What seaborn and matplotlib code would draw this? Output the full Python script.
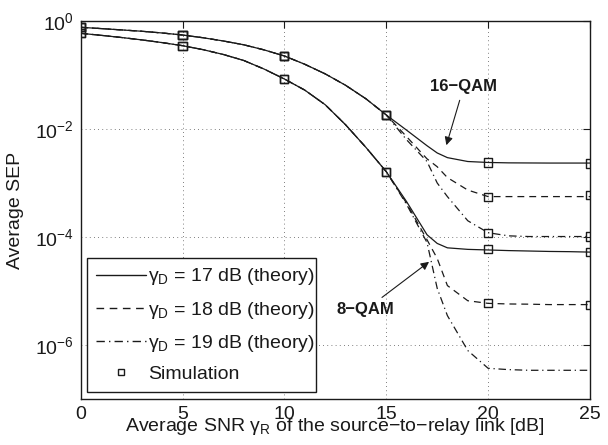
import matplotlib
matplotlib.use("Agg")
import matplotlib.pyplot as plt
from matplotlib.lines import Line2D
import seaborn as sns
import pandas as pd

# ---------------- data ----------------
snr_common = list(range(16))                       # 0 .. 15 dB
snr_tail = [16, 17, 17.5, 18, 19, 20, 21, 22, 23, 24, 25]
snr = snr_common + snr_tail

# 16-QAM (all gamma_D coincide up to 15 dB)
qam16_common = [0.764, 0.724, 0.684, 0.646, 0.600, 0.550, 0.490, 0.427,
                0.363, 0.292, 0.225, 0.158, 0.105, 0.0646, 0.0363, 0.0182]
qam16_17_tail = [9.5e-3, 4.9e-3, 3.6e-3, 2.95e-3, 2.5e-3, 2.4e-3,
                 2.36e-3, 2.35e-3, 2.34e-3, 2.34e-3, 2.34e-3]
qam16_18_tail = [7.2e-3, 2.8e-3, 2.0e-3, 1.26e-3, 7.4e-4, 5.6e-4,
                 5.6e-4, 5.6e-4, 5.6e-4, 5.6e-4, 5.6e-4]
qam16_19_tail = [6.3e-3, 2.5e-3, 1.0e-3, 5.6e-4, 2.0e-4, 1.2e-4,
                 1.05e-4, 1.02e-4, 1.02e-4, 1.02e-4, 1.02e-4]

# 8-QAM
qam8_common = [0.592, 0.543, 0.495, 0.447, 0.398, 0.349, 0.295, 0.240,
               0.186, 0.129, 0.0843, 0.0525, 0.0282, 0.0120, 4.57e-3, 1.62e-3]
qam8_17_tail = [4.5e-4, 1.1e-4, 7.6e-5, 6.3e-5, 5.9e-5, 5.75e-5,
                5.6e-5, 5.5e-5, 5.4e-5, 5.35e-5, 5.25e-5]
qam8_18_tail = [4.2e-4, 8.9e-5, 4.0e-5, 1.26e-5, 6.6e-6, 5.9e-6,
                5.75e-6, 5.7e-6, 5.6e-6, 5.6e-6, 5.6e-6]
qam8_19_tail = [4.0e-4, 7.9e-5, 1.12e-5, 3.5e-6, 7.9e-7, 3.7e-7,
                3.5e-7, 3.4e-7, 3.4e-7, 3.4e-7, 3.4e-7]

# Monte-Carlo simulation points
sim_snr = [0, 5, 10, 15, 20, 25]
sim16_17 = [0.764, 0.550, 0.225, 0.0182, 2.4e-3, 2.3e-3]
sim16_18 = [0.764, 0.550, 0.225, 0.0182, 5.6e-4, 6.0e-4]
sim16_19 = [0.764, 0.550, 0.225, 0.0182, 1.2e-4, 1.02e-4]
sim8_17 = [0.592, 0.349, 0.0843, 1.62e-3, 6.0e-5, 5.25e-5]
sim8_18 = [0.592, 0.349, 0.0843, 1.62e-3, 5.9e-6, 5.6e-6]

legend_labels = ["γ$_\\mathrm{D}$ = 17 dB (theory)",
                 "γ$_\\mathrm{D}$ = 18 dB (theory)",
                 "γ$_\\mathrm{D}$ = 19 dB (theory)",
                 "Simulation"]
xticks = [0, 5, 10, 15, 20, 25]
yticks = [1e-6, 1e-4, 1e-2, 1e0]

# ---------------- style ----------------
sns.set_theme(style="white")
plt.rcParams["font.family"] = ["Liberation Sans", "DejaVu Sans"]
plt.rcParams["mathtext.fontset"] = "custom"
plt.rcParams["mathtext.rm"] = "Liberation Sans"
plt.rcParams["mathtext.it"] = "Liberation Sans:italic"
plt.rcParams["mathtext.bf"] = "Liberation Sans:bold"
plt.rcParams["axes.unicode_minus"] = True
plt.rcParams["text.color"] = "black"
plt.rcParams["axes.labelcolor"] = "black"
plt.rcParams["xtick.color"] = "black"
plt.rcParams["ytick.color"] = "black"

fig = plt.figure(figsize=(6.08, 4.45), dpi=100)
ax = fig.add_axes([0.1327, 0.1034, 0.8377, 0.8494])

styles = {"17": "-", "18": (0, (5.5, 4)), "19": (0, (6, 3, 1, 3))}

series = [
    (qam16_common + qam16_17_tail, "17"),
    (qam16_common + qam16_18_tail, "18"),
    (qam16_common + qam16_19_tail, "19"),
    (qam8_common + qam8_17_tail, "17"),
    (qam8_common + qam8_18_tail, "18"),
    (qam8_common + qam8_19_tail, "19"),
]
for vals, key in series:
    df = pd.DataFrame({"snr": snr, "sep": vals})
    sns.lineplot(data=df, x="snr", y="sep", ax=ax, color="k",
                 linestyle=styles[key], linewidth=0.9, legend=False)

sim_df = pd.DataFrame({
    "snr": sim_snr * 5,
    "sep": sim16_17 + sim16_18 + sim16_19 + sim8_17 + sim8_18,
})
sns.scatterplot(data=sim_df, x="snr", y="sep", ax=ax, marker="s", s=34,
                legend=False, zorder=5)
coll = ax.collections[-1]
coll.set_facecolor("none")
coll.set_edgecolor("k")
coll.set_linewidth(1.0)

ax.set_yscale("log")
ax.set_xlim(0, 25)
ax.set_ylim(1e-7, 1e0)
ax.set_xticks(xticks)
ax.set_yticks(yticks)
ax.minorticks_off()
ax.grid(True, which="major", color="#555555", linestyle=(0, (1, 4)), linewidth=0.6)
ax.tick_params(direction="in", top=True, right=True, length=5, width=0.8,
               labelsize=14, colors="k", pad=5)
for sp in ax.spines.values():
    sp.set_color("k")
    sp.set_linewidth(1.0)

ax.set_xlabel("Average SNR γ$_\\mathrm{R}$ of the source−to−relay link [dB]",
              fontsize=14, labelpad=-5, color="k")
ax.set_ylabel("Average SEP", fontsize=14, labelpad=8, color="k")

# annotations
ax.annotate("16−QAM", xy=(17.95, 10 ** -2.30), xytext=(18.8, 10 ** -1.22),
            fontsize=12, fontweight="bold", ha="center", va="center", color="k",
            arrowprops=dict(arrowstyle="-|>", color="k", lw=0.8,
                            mutation_scale=12, shrinkA=2, shrinkB=0))
ax.annotate("8−QAM", xy=(17.1, 10 ** -4.46), xytext=(13.98, 10 ** -5.35),
            fontsize=12, fontweight="bold", ha="center", va="center", color="k",
            arrowprops=dict(arrowstyle="-|>", color="k", lw=0.8,
                            mutation_scale=12, shrinkA=2, shrinkB=0))

handles = [
    Line2D([], [], color="k", linestyle=styles["17"], lw=1.0),
    Line2D([], [], color="k", linestyle=styles["18"], lw=1.0),
    Line2D([], [], color="k", linestyle=styles["19"], lw=1.0),
    Line2D([], [], color="k", linestyle="none", marker="s",
           markerfacecolor="none", markersize=5, mew=1.0),
]
leg = ax.legend(handles, legend_labels, loc="lower left",
                bbox_to_anchor=(0.0124, 0.0185, 0.45, 0.35), mode="expand",
                fontsize=14, frameon=True, fancybox=False, framealpha=1,
                edgecolor="k", handlelength=2.6, handletextpad=0.1,
                labelspacing=0.62, borderpad=0.45, borderaxespad=0)
leg.get_frame().set_linewidth(1.0)
for t in leg.get_texts():
    t.set_color("k")

fig.savefig("out.png", dpi=100)
